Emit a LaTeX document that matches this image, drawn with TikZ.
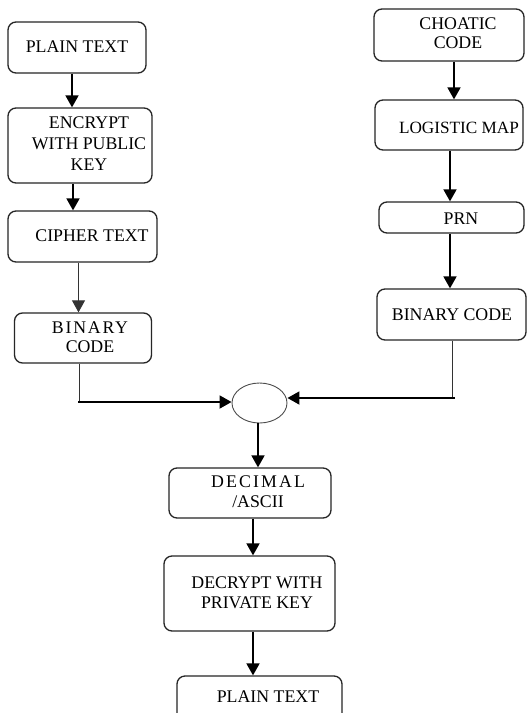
\documentclass[tikz,border=0pt]{standalone}
\usepackage{fontspec}
\setmainfont{Liberation Serif}
\usetikzlibrary{arrows.meta,shapes.geometric}

\tikzset{
  box/.style={draw=black!85, line width=1.3pt, rounded corners=8pt, fill=none},
  txt/.style={inner sep=0pt, font=\fontsize{17.8}{20}\selectfont, text=black},
  arr/.style={draw=black, line width=1.8pt, -{Triangle[length=12pt,width=13pt]}},
  thinarr/.style={draw=black!80, line width=0.9pt, -{Triangle[length=12pt,width=13pt]}},
  plain/.style={draw=black!80, line width=0.9pt},
}

\begin{document}
\begin{tikzpicture}[x=1pt, y=-1pt]
  \clip (0,0) rectangle (527,713);
  \fill[white] (0,0) rectangle (527,713);

  % ---- encryption branch (left) ----
  \node[box, minimum width=138pt, minimum height=51pt] (p1) at (77,47.5) {};
  \node[txt] (p1t) at (77,47) {PLAIN TEXT};

  \node[box, minimum width=144pt, minimum height=75pt] (enc) at (80,145.5) {};
  \node[txt, align=center, font=\fontsize{17.8}{21}\selectfont] (enct) at (89,144) {ENCRYPT\\WITH PUBLIC\\KEY};

  \node[box, minimum width=149pt, minimum height=51pt] (ciph) at (82.5,236.5) {};
  \node[txt] (cipht) at (92,236) {CIPHER TEXT};

  \node[box, minimum width=137pt, minimum height=50pt] (lbin) at (83,338) {};
  \node[txt, align=center, font=\fontsize{17.8}{19}\selectfont] (lbint) at (90,337.5) {\addfontfeatures{LetterSpace=10}BINARY\\CODE};

  % ---- key branch (right) ----
  \node[box, minimum width=150pt, minimum height=52pt] (cho) at (449,35) {};
  \node[txt, align=center, font=\fontsize{17.8}{19}\selectfont] (chot) at (458,33.5) {CHOATIC\\CODE};

  \node[box, minimum width=148pt, minimum height=50pt] (log) at (449,125) {};
  \node[txt, font=\fontsize{17.2}{20}\selectfont] (logt) at (459,128) {LOGISTIC MAP};

  \node[box, minimum width=145pt, minimum height=31pt] (prn) at (451.5,217.5) {};
  \node[txt] (prnt) at (461,219) {PRN};

  \node[box, minimum width=149pt, minimum height=51pt] (rbin) at (451.5,314.5) {};
  \node[txt] (rbint) at (452,315) {BINARY CODE};

  % ---- combining step ----
  \node[ellipse, draw=black!70, line width=0.9pt, minimum width=55pt, minimum height=40pt, inner sep=0pt] (mix) at (259.5,403) {};

  % ---- decryption branch ----
  \node[box, minimum width=162pt, minimum height=50pt] (dec) at (250,493) {};
  \node[txt, align=center, font=\fontsize{17.8}{20}\selectfont] (dect) at (258,492) {\addfontfeatures{LetterSpace=12}DECIMAL\\/ASCII};

  \node[box, minimum width=171pt, minimum height=75pt] (decr) at (249.5,593.5) {};
  \node[txt, align=center, font=\fontsize{17.8}{20}\selectfont] (decrt) at (257,593) {DECRYPT WITH\\PRIVATE KEY};

  \node[box, minimum width=165pt, minimum height=70pt] (p2) at (259.5,711) {};
  \node[txt] (p2t) at (268,697) {PLAIN TEXT};

  % ---- connectors ----
  \draw[arr] ([xshift=-5pt]p1.south) -- ([xshift=-5pt]p1.south |- enc.north);
  \draw[arr] ([xshift=-7pt]enc.south) -- ([xshift=-7pt]enc.south |- ciph.north);
  \draw[thinarr] ([xshift=-4pt]ciph.south) -- ([xshift=-4pt]ciph.south |- lbin.north);

  \coordinate (lc) at (79,402);
  \draw[plain] ([xshift=-4pt]lbin.south) -- (lc);
  \draw[arr, line cap=rect] (lc) -- (mix.west |- lc);

  \draw[arr] ([xshift=5pt]cho.south) -- ([xshift=5pt]cho.south |- log.north);
  \draw[arr] ([xshift=1pt]log.south) -- ([xshift=1pt]log.south |- prn.north);
  \draw[arr] ([xshift=-1.5pt]prn.south) -- ([xshift=-1.5pt]prn.south |- rbin.north);

  \coordinate (rc) at (455,398);
  \draw[plain] ([xshift=0.5pt]rbin.south) -- ([xshift=0.5pt]rbin.south |- rc);
  \draw[arr] (rc) -- (mix.east |- rc);

  \draw[arr] ([xshift=-1.5pt]mix.south) -- ([xshift=-1.5pt]mix.south |- dec.north);
  \draw[arr] ([xshift=3pt]dec.south) -- ([xshift=3pt]dec.south |- decr.north);
  \draw[arr] ([xshift=3.5pt]decr.south) -- ([xshift=3.5pt]decr.south |- p2.north);
\end{tikzpicture}
\end{document}
